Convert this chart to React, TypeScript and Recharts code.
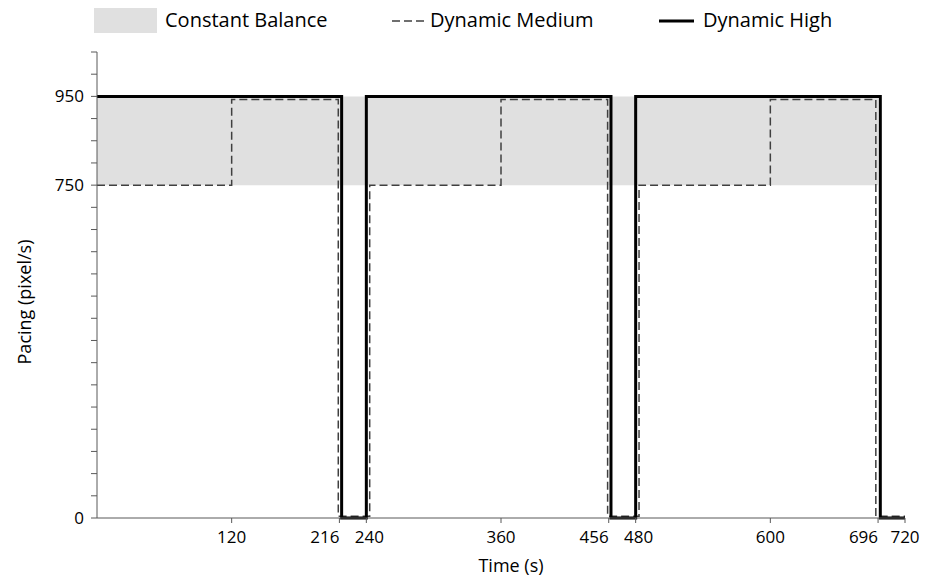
import { LineChart, Line, XAxis, YAxis, ReferenceArea } from "recharts";

// Dynamic High pacing (solid), stepAfter points
const highTimes = [0, 218, 240, 458, 480, 698, 720];
const highValues = [950, 0, 950, 0, 950, 0, 0];

// Dynamic Medium pacing (dashed)
const mediumTimes = [0, 120, 215, 243, 360, 455, 483, 600, 694, 720];
const mediumValues = [750, 943, 4, 750, 943, 4, 750, 943, 4, 4];

// Constant Balance band
const balanceRange = [750, 950];
const balanceSpan = [0, 696];

const xTicks = [120, 216, 240, 360, 456, 480, 600, 696, 720];
const xRightAligned = [216, 456, 696];
const yTicks = [0, 50, 100, 150, 200, 250, 300, 350, 400, 450, 500, 550, 600, 650, 700, 750, 800, 850, 900, 950, 1000, 1050];
const yLabeled = [0, 750, 950];

const highData = highTimes.map((t, i) => ({ t, v: highValues[i] }));
const mediumData = mediumTimes.map((t, i) => ({ t, v: mediumValues[i] }));

const FONT = "'Open Sans', sans-serif";
const AXIS = "#595959";

function ChartLegend() {
  const text = { position: "absolute" as const, top: 6, fontSize: 20, lineHeight: "28px" };
  return (
    <div style={{ position: "absolute", top: 0, left: 0, fontFamily: FONT, color: "#000" }}>
      <span style={{ position: "absolute", left: 94, top: 8, width: 63, height: 25, background: "#e0e0e0" }} />
      <span style={{ ...text, left: 165, whiteSpace: "nowrap" }}>Constant Balance</span>
      <svg style={{ position: "absolute", left: 392, top: 16 }} width={34} height={10}>
        <line x1={0} y1={5} x2={34} y2={5} stroke="#404040" strokeWidth={1.5} strokeDasharray="8 4" />
      </svg>
      <span style={{ ...text, left: 430, whiteSpace: "nowrap" }}>Dynamic Medium</span>
      <svg style={{ position: "absolute", left: 659, top: 16 }} width={35} height={10}>
        <line x1={0} y1={5} x2={35} y2={5} stroke="#000" strokeWidth={3} />
      </svg>
      <span style={{ ...text, left: 703, whiteSpace: "nowrap" }}>Dynamic High</span>
    </div>
  );
}

function XTick(props: any) {
  const { x, y, payload } = props;
  const right = xRightAligned.includes(payload.value);
  const dx = right ? 0 : payload.value === 240 || payload.value === 480 ? 3 : 0;
  return (
    <text
      x={x + dx}
      y={y + 4}
      textAnchor={right ? "end" : "middle"}
      dominantBaseline="hanging"
      fill="#000"
      fontSize={17}
      fontFamily={FONT}
    >
      {payload.value}
    </text>
  );
}

export default function App() {
  return (
    <div style={{ position: "absolute", left: 0, top: 0, width: 934, height: 579, background: "#fff" }}>
      <ChartLegend />
      <LineChart width={934} height={579} margin={{ top: 52, right: 29, left: 0, bottom: 0 }}>
        <XAxis
          dataKey="t"
          type="number"
          domain={[0, 720]}
          ticks={xTicks}
          allowDuplicatedCategory={false}
          interval={0}
          height={61}
          tickSize={5}
          stroke={AXIS}
          tick={<XTick />}
          label={{ value: "Time (s)", position: "insideBottom", offset: 7, dx: 10, fill: "#000", fontSize: 18, fontFamily: FONT }}
        />
        <YAxis
          type="number"
          domain={[0, 1050]}
          ticks={yTicks}
          interval={0}
          width={97}
          tickSize={6}
          tickMargin={7}
          stroke={AXIS}
          tickFormatter={(v: number) => (yLabeled.includes(v) ? String(v) : "")}
          tick={{ fill: "#000", fontSize: 17, fontFamily: FONT }}
          label={{
            value: "Pacing (pixel/s)",
            angle: -90,
            position: "insideLeft",
            dx: 20,
            dy: 17,
            style: { textAnchor: "middle" },
            fill: "#000",
            fontSize: 18,
            fontFamily: FONT,
          }}
        />
        <ReferenceArea
          x1={balanceSpan[0]}
          x2={balanceSpan[1]}
          y1={balanceRange[0]}
          y2={balanceRange[1]}
          fill="#e0e0e0"
          fillOpacity={1}
          stroke="none"
          ifOverflow="visible"
        />
        <Line
          data={mediumData}
          dataKey="v"
          type="stepAfter"
          stroke="#404040"
          strokeWidth={1.5}
          strokeDasharray="8 4"
          dot={false}
          activeDot={false}
          isAnimationActive={false}
        />
        <Line
          data={highData}
          dataKey="v"
          type="stepAfter"
          stroke="#000"
          strokeWidth={3}
          dot={false}
          activeDot={false}
          isAnimationActive={false}
        />
      </LineChart>
    </div>
  );
}
